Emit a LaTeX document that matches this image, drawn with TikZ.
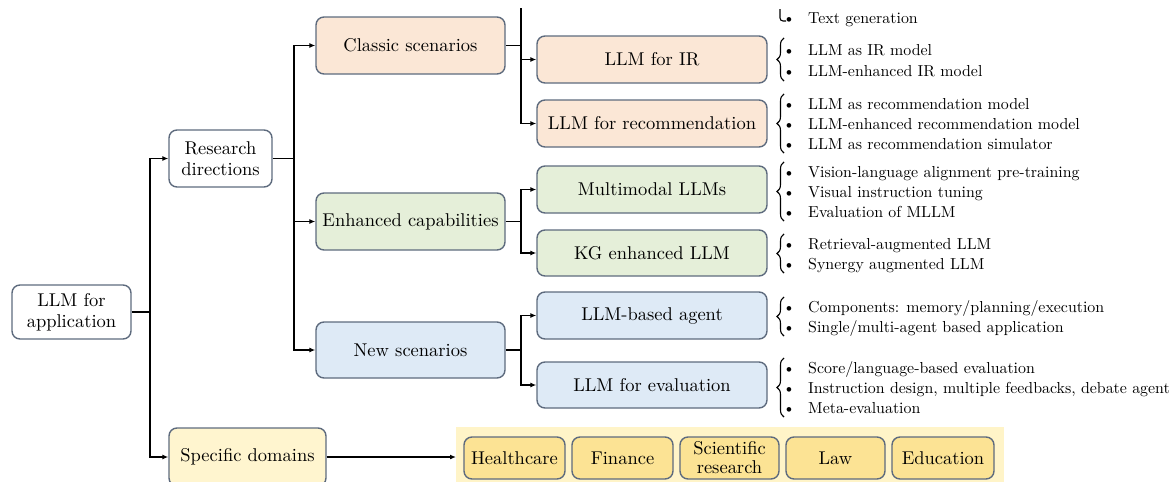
\documentclass[tikz,border=0pt]{standalone}
\usepackage{fontspec}
\setmainfont{lmroman10-regular}[Extension=.otf]
\usetikzlibrary{arrows.meta,decorations.pathreplacing}
\definecolor{bord}{HTML}{5E6B7E}
\definecolor{peach}{HTML}{FBE7D6}
\definecolor{greenf}{HTML}{E5EFD9}
\definecolor{bluef}{HTML}{DEEAF6}
\definecolor{specf}{HTML}{FFF5CF}
\definecolor{bandf}{HTML}{FFF4C8}
\definecolor{domf}{HTML}{FCE394}
\tikzset{
  box/.style={draw=bord, line width=1.4pt, rounded corners=8pt, align=center,
    inner sep=2pt, font=\fontsize{18.5}{21}\selectfont},
  arr/.style={line width=1.8pt, -{Latex[length=6pt,width=5pt]}},
  lnk/.style={line width=1.8pt},
  itm/.style={anchor=base west, inner sep=0pt, font=\fontsize{15.9}{20}\selectfont},
  bul/.style={anchor=base, inner sep=0pt, font=\fontsize{15.9}{20}\selectfont},
  brc/.style={decorate, decoration={brace, amplitude=7pt}, line width=1.1pt},
}
\begin{document}
\begin{tikzpicture}[x=1pt,y=-1pt]
\useasboundingbox (0,0) rectangle (1176,482);
% band
\fill[bandf] (456,427) rectangle (1004,490);
% first level
\node[box, minimum width=119pt, minimum height=54pt] (app) at (71.5,312) {LLM for\\application};
\node[box, minimum width=103pt, minimum height=57pt] (res) at (220.5,158.5) {Research\\directions};
\node[box, fill=specf, minimum width=157pt, minimum height=58pt] (spec) at (247.5,457) {Specific domains};
% second level
\node[box, fill=peach, minimum width=189pt, minimum height=57pt] (cls) at (410.5,45.5) {Classic scenarios};
\node[box, fill=greenf, minimum width=189pt, minimum height=57pt] (enh) at (410.5,221.5) {Enhanced capabilities};
\node[box, fill=bluef, minimum width=189pt, minimum height=56pt] (new) at (410.5,350) {New scenarios};
% third level
\node[box, fill=peach, minimum width=230pt, minimum height=47pt] (ir) at (652,59.5) {LLM for IR};
\node[box, fill=peach, minimum width=230pt, minimum height=47pt] (rec) at (652,123.5) {LLM for recommendation};
\node[box, fill=greenf, minimum width=230pt, minimum height=47pt] (mm) at (652,189.5) {Multimodal LLMs};
\node[box, fill=greenf, minimum width=230pt, minimum height=46pt] (kg) at (652,253) {KG enhanced LLM};
\node[box, fill=bluef, minimum width=230pt, minimum height=47pt] (agt) at (652,315.5) {LLM-based agent};
\node[box, fill=bluef, minimum width=230pt, minimum height=46pt] (evl) at (652,385) {LLM for evaluation};
% domains
\node[box, fill=domf, minimum width=101pt, minimum height=42pt, inner sep=1pt] (hc) at (514.5,458) {Healthcare};
\node[box, fill=domf, minimum width=101pt, minimum height=42pt, inner sep=1pt] (fin) at (622.5,458) {Finance};
\node[box, fill=domf, minimum width=99pt, minimum height=42pt, inner sep=1pt, font=\fontsize{18.5}{19}\selectfont] (sci) at (729.5,458) {Scientific\\research};
\node[box, fill=domf, minimum width=99pt, minimum height=42pt, inner sep=1pt] (law) at (835.5,458) {Law};
\node[box, fill=domf, minimum width=102pt, minimum height=42pt, inner sep=1pt] (edu) at (943,458) {Education};
\coordinate (bandw) at (456,457);
% connectors
\coordinate (j1) at (150,312);
\draw[lnk] (app.east) -- (j1);
\draw[arr] (j1) |- (res.west);
\draw[arr] (j1) |- (spec.west);
\coordinate (j2) at (294,158.5);
\draw[lnk] (res.east) -- (j2);
\draw[arr] (j2) |- (cls.west);
\draw[arr] (j2) |- (enh.west);
\draw[arr] (j2) |- (new.west);
\coordinate (j3) at (521,45.5);
\coordinate (j3top) at (521,8);
\draw[lnk] (cls.east) -- (j3);
\draw[lnk] (j3top) -- (j3);
\draw[arr] (j3) |- (ir.west);
\draw[arr] (j3) |- (rec.west);
\coordinate (j4) at (521,221.5);
\draw[lnk] (enh.east) -- (j4);
\draw[arr] (j4) |- (mm.west);
\draw[arr] (j4) |- (kg.west);
\coordinate (j5) at (521,350);
\draw[lnk] (new.east) -- (j5);
\draw[arr] (j5) |- (agt.west);
\draw[arr] (j5) |- (evl.west);
\draw[arr] (spec.east) -- (bandw);
% top hook
\coordinate (hk1) at (780,9);
\coordinate (hk2) at (786,21);
\draw[line width=1.1pt, rounded corners=3pt] (hk1) -- (780,21) -- (hk2);
\node[bul] at (789,23.5) {\textbullet};
\node[itm] at (808,23.5) {Text generation};
% braces
\draw[brc] (784,81) -- (784,38);
\draw[brc] (784,153) -- (784,94);
\draw[brc] (784,221) -- (784,162);
\draw[brc] (784,273) -- (784,234);
\draw[brc] (784,336) -- (784,297);
\draw[brc] (784,417) -- (784,358);
% items
\foreach \y/\t in {50/LLM as IR model, 71/LLM-enhanced IR model,
  104/LLM as recommendation model, 124/LLM-enhanced recommendation model, 144/LLM as recommendation simulator,
  172/Vision-language alignment pre-training, 192/Visual instruction tuning, 212/Evaluation of MLLM,
  244/Retrieval-augmented LLM, 264/Synergy augmented LLM,
  307/Components: memory\slash planning\slash execution, 327/Single\slash multi-agent based application,
  368/Score\slash language-based evaluation, 388/{Instruction design, multiple feedbacks, debate agent}, 408/Meta-evaluation}
{
  \node[bul] at (789,\y+5.5) {\textbullet};
  \node[itm] at (808,\y+5.5) {\t};
}
\end{tikzpicture}
\end{document}
